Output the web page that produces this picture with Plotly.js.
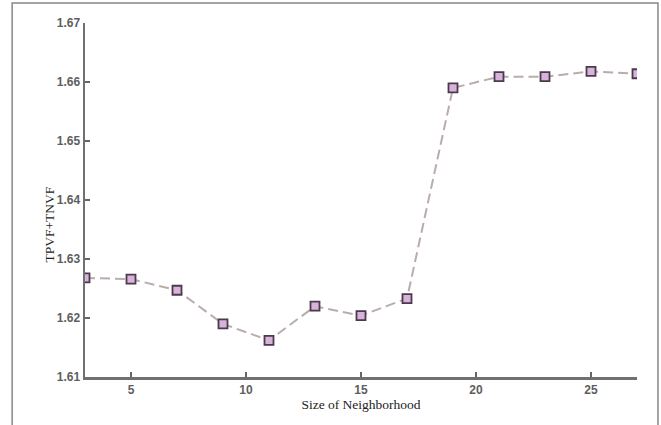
<!DOCTYPE html>
<html>
<head>
<meta charset="utf-8">
<script src="https://cdn.plot.ly/plotly-3.0.1.min.js"></script>
<style>
html,body{margin:0;padding:0;background:#fff;}
#chart{width:661px;height:425px;}
</style>
</head>
<body>
<div id="chart"></div>
<script>
const neighborhoodSize = [3, 5, 7, 9, 11, 13, 15, 17, 19, 21, 23, 25, 27];
const tpvfPlusTnvf = [1.6268, 1.6266, 1.6247, 1.6190, 1.6162, 1.6220, 1.6204, 1.6233, 1.6590, 1.6609, 1.6609, 1.6618, 1.6614];
const xTickVals = [5, 10, 15, 20, 25];
const yTickVals = [1.61, 1.62, 1.63, 1.64, 1.65, 1.66, 1.67];
const xTitle = "Size of Neighborhood";
const yTitle = "TPVF+TNVF";

const trace = {
  x: neighborhoodSize,
  y: tpvfPlusTnvf,
  type: "scatter",
  mode: "lines+markers",
  line: {color: "#b8adab", width: 2, dash: "10px,5px"},
  marker: {symbol: "square", size: 9, color: "#d9b2dc", line: {color: "#4a3a4c", width: 1.8}},
  hoverinfo: "skip"
};

const layout = {
  width: 661, height: 425,
  margin: {l: 85, r: 24, t: 23, b: 48},
  paper_bgcolor: "#ffffff",
  plot_bgcolor: "#ffffff",
  showlegend: false,
  xaxis: {
    range: [3, 27],
    tickvals: xTickVals,
    ticks: "inside", ticklen: 5, tickwidth: 1.5, tickcolor: "#666",
    showline: true, linecolor: "#707070", linewidth: 2.5,
    showgrid: false, zeroline: false,
    tickfont: {family: "Liberation Sans, Arial, sans-serif", size: 12, color: "#5e5e5e", weight: "bold"},
    title: {text: xTitle, font: {family: "Liberation Serif, Times New Roman, serif", size: 13.5, color: "#222"}, standoff: 4}
  },
  yaxis: {
    range: [1.61, 1.67],
    tickvals: yTickVals,
    tickformat: ".2f",
    ticks: "inside", ticklen: 5, tickwidth: 1.5, tickcolor: "#666",
    showline: true, linecolor: "#707070", linewidth: 2.5,
    showgrid: false, zeroline: false,
    tickfont: {family: "Liberation Sans, Arial, sans-serif", size: 12, color: "#5e5e5e", weight: "bold"}
  },
  annotations: [{
    text: yTitle, xref: "paper", yref: "paper",
    x: -0.081, y: 0.43, showarrow: false, textangle: -90,
    font: {family: "Liberation Serif, Times New Roman, serif", size: 13.5, color: "#222"}
  }],
  shapes: [{
    type: "rect", xref: "paper", yref: "paper",
    x0: -0.132, x1: 1.038, y0: -0.2, y1: 1.0565,
    line: {color: "#888", width: 1.5}, fillcolor: "rgba(0,0,0,0)", layer: "below"
  }]
};

Plotly.newPlot("chart", [trace], layout, {displayModeBar: false, staticPlot: true});
</script>
</body>
</html>
